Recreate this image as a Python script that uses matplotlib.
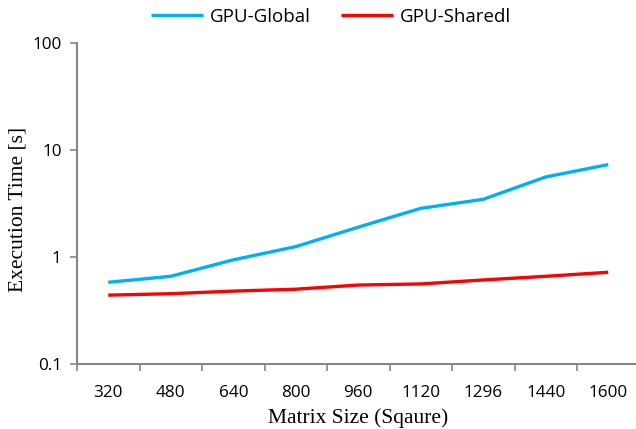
import numpy as np
import matplotlib.pyplot as plt
from matplotlib.ticker import FixedLocator, NullLocator

# execution times per matrix size
sizes = ['320', '480', '640', '800', '960', '1120', '1296', '1440', '1600']
gpu_global = [0.58, 0.66, 0.94, 1.25, 1.9, 2.85, 3.46, 5.6, 7.3]
gpu_shared = [0.44, 0.454, 0.48, 0.50, 0.547, 0.56, 0.61, 0.66, 0.72]

AXIS_GREY = '#868686'
TICK_FONT = dict(fontfamily='Open Sans', fontsize=12.3)

fig = plt.figure(figsize=(6.36, 4.29), dpi=100)
ax = fig.add_axes([77 / 636, 65 / 429, 562.5 / 636, 321 / 429])

x = np.arange(len(sizes))
ax.plot(x, gpu_global, color='#00B0F0', lw=2.4, solid_capstyle='butt', label='GPU-Global')
ax.plot(x, gpu_shared, color='#FF0000', lw=2.4, solid_capstyle='butt', label='GPU-Sharedl')

ax.set_yscale('log')
ax.set_ylim(0.1, 100)
ax.yaxis.set_major_locator(FixedLocator([0.1, 1, 10, 100]))
ax.yaxis.set_minor_locator(NullLocator())
ax.set_yticklabels(['0.1', '1', '10', '100'], **TICK_FONT)

# category boundaries get tick marks, labels sit between them
ax.set_xlim(-0.5, len(sizes) - 0.5)
ax.xaxis.set_major_locator(FixedLocator(np.arange(-0.5, len(sizes), 1.0)))
ax.xaxis.set_major_formatter(plt.NullFormatter())
ax.xaxis.set_minor_locator(FixedLocator(x))
ax.set_xticklabels(sizes, minor=True, **TICK_FONT)

ax.tick_params(axis='x', which='major', length=5, width=1.2, color=AXIS_GREY, direction='out')
ax.tick_params(axis='x', which='minor', length=0, pad=15)
ax.tick_params(axis='y', which='major', length=5, width=1.2, color=AXIS_GREY, direction='out', pad=6)

for side in ['top', 'right']:
    ax.spines[side].set_visible(False)
for side in ['left', 'bottom']:
    ax.spines[side].set_color(AXIS_GREY)
    ax.spines[side].set_linewidth(1.5)

ax.set_xlabel('Matrix Size (Sqaure)', fontfamily='Liberation Serif', fontsize=15.5, va='center')
ax.set_ylabel('Execution Time [s]', fontfamily='Liberation Serif', fontsize=15.5, va='center')
ax.xaxis.set_label_coords(0.5, -54 / 321)
ax.yaxis.set_label_coords(-59 / 562.5, 155 / 321)

fig.legend(loc='center', bbox_to_anchor=(331 / 636, 1 - 17 / 429), ncol=2, frameon=False,
           prop={'family': 'Open Sans', 'size': 13.5}, handlelength=2.8, columnspacing=1.6,
           handletextpad=0.35, borderpad=0, borderaxespad=0)

fig.savefig('out.png', dpi=100)
